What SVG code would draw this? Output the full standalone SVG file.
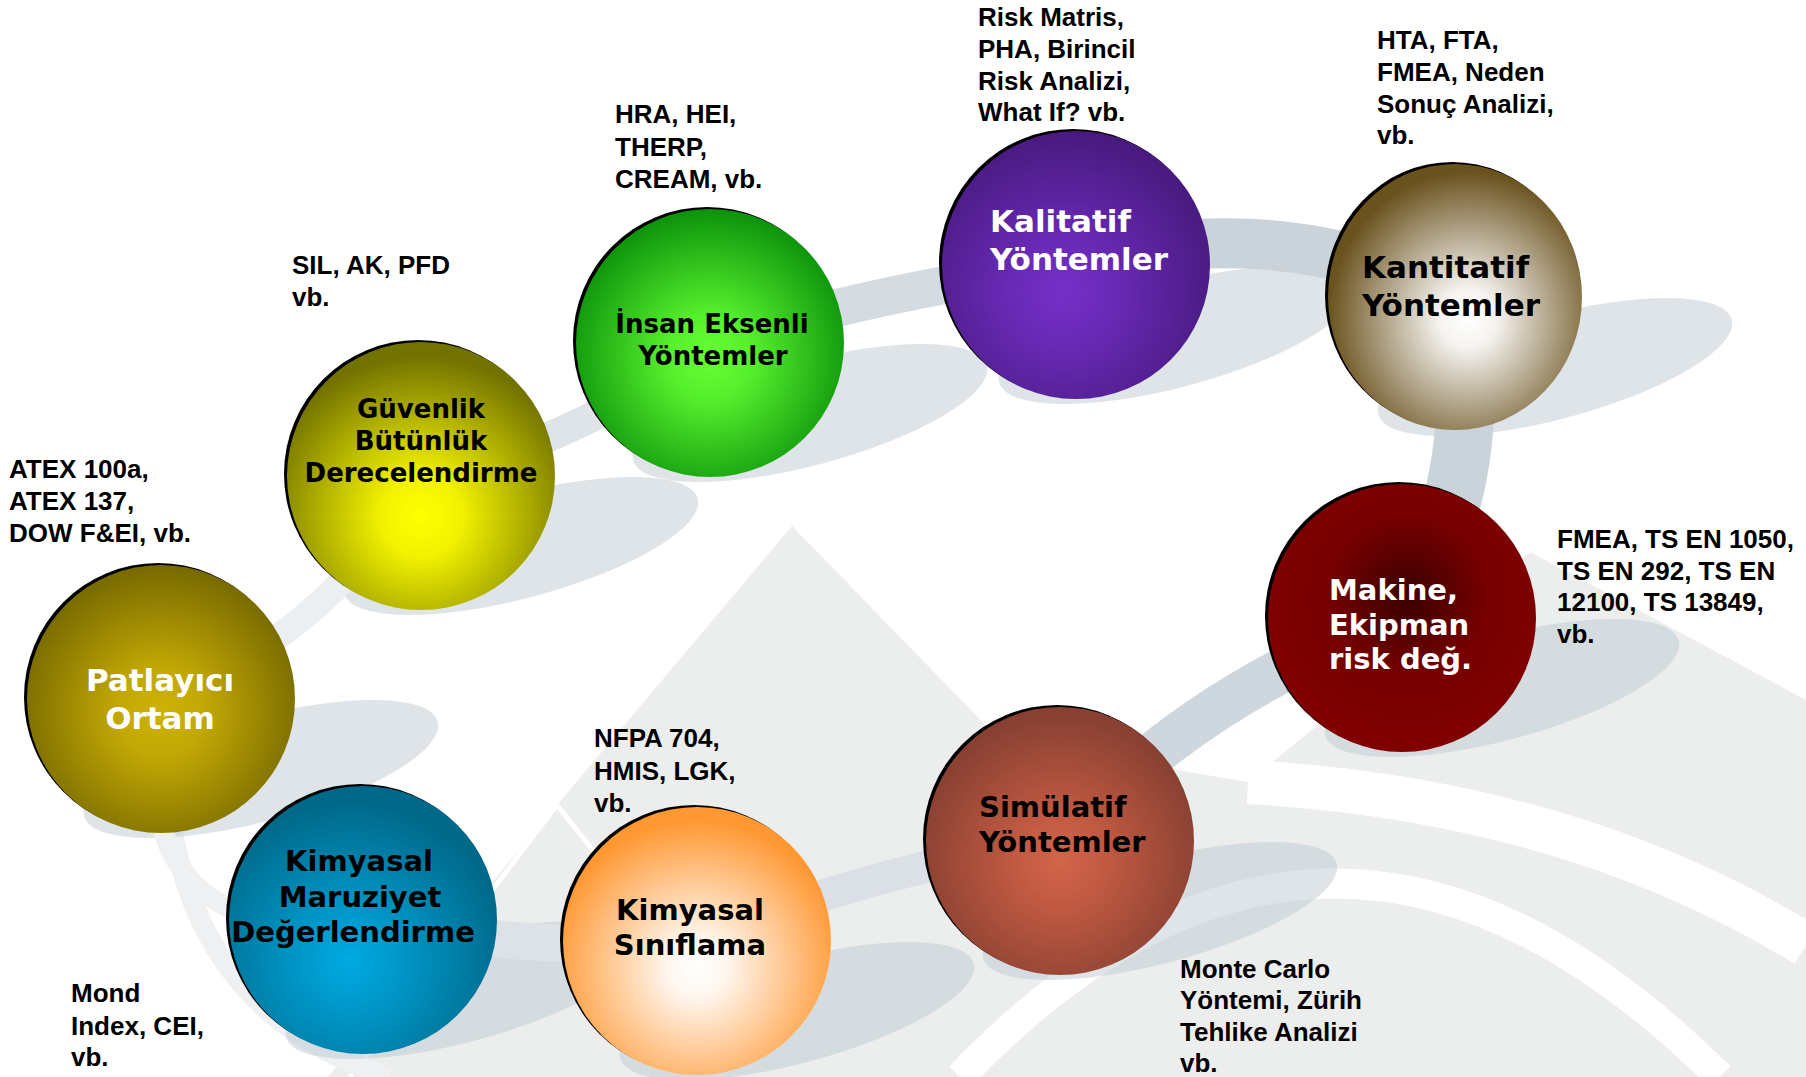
<svg xmlns="http://www.w3.org/2000/svg" width="1806" height="1077" viewBox="0 0 1806 1077">
<style>
.ann{font-family:"Liberation Sans",Arial,sans-serif;font-weight:bold;font-size:26px;fill:#000}
.nl{font-family:"DejaVu Sans",Verdana,sans-serif;font-weight:bold}
.c{text-anchor:middle}
.sh{fill:#C3CDD5;fill-opacity:0.55}
.rim{fill:#000}
.ring{fill:none;stroke-linecap:butt}
</style>
<defs>
<radialGradient id="gP" cx="0.5" cy="0.55" r="0.55"><stop offset="0" stop-color="#CDB204"/><stop offset="0.3" stop-color="#C2A805"/><stop offset="1" stop-color="#776900"/></radialGradient>
<radialGradient id="gG" cx="0.5" cy="0.65" r="0.6"><stop offset="0" stop-color="#FFFF00"/><stop offset="0.25" stop-color="#F2F200"/><stop offset="1" stop-color="#727200"/></radialGradient>
<radialGradient id="gI" cx="0.5" cy="0.55" r="0.55"><stop offset="0" stop-color="#66FF33"/><stop offset="0.3" stop-color="#55EE2C"/><stop offset="1" stop-color="#0C920C"/></radialGradient>
<radialGradient id="gK" cx="0.45" cy="0.6" r="0.6"><stop offset="0" stop-color="#7530C8"/><stop offset="0.3" stop-color="#6A2AB8"/><stop offset="1" stop-color="#481A7E"/></radialGradient>
<radialGradient id="gN" cx="0.55" cy="0.58" r="0.55"><stop offset="0" stop-color="#FFFFFF"/><stop offset="0.2" stop-color="#F6F4F1"/><stop offset="1" stop-color="#6A521E"/></radialGradient>
<radialGradient id="gM" cx="0.52" cy="0.42" r="0.55"><stop offset="0" stop-color="#3A0000"/><stop offset="0.55" stop-color="#780000"/><stop offset="1" stop-color="#800000"/></radialGradient>
<radialGradient id="gS" cx="0.5" cy="0.57" r="0.55"><stop offset="0" stop-color="#D2654B"/><stop offset="0.3" stop-color="#C25A42"/><stop offset="1" stop-color="#874032"/></radialGradient>
<radialGradient id="gC" cx="0.5" cy="0.6" r="0.55"><stop offset="0" stop-color="#FFFFFF"/><stop offset="0.2" stop-color="#FFF6EE"/><stop offset="1" stop-color="#FF9833"/></radialGradient>
<radialGradient id="gD" cx="0.45" cy="0.65" r="0.6"><stop offset="0" stop-color="#00AAE2"/><stop offset="0.3" stop-color="#0098CA"/><stop offset="1" stop-color="#006888"/></radialGradient>
</defs>
<rect width="1806" height="1077" fill="#FFFFFF"/>
<g id="background">
<path d="M328,1077 L792,526 L1000,740 L1248,782 L1530,552 L1806,700 L1806,1077 Z" fill="#ECEDED"/>
<path d="M1248,782 Q1570,800 1806,945" fill="none" stroke="#FFFFFF" stroke-width="44"/>
<path d="M960,1077 Q1330,690 1720,1077" fill="none" stroke="#FFFFFF" stroke-width="30"/>
<path d="M350,1077 L557,805 L700,985" fill="none" stroke="#FFFFFF" stroke-width="5"/>
<path d="M165,760 Q175,1010 390,1077" fill="none" stroke="#EEF0F2" stroke-width="20"/>
</g>
<g id="shadows">
<ellipse class="sh" cx="261" cy="769" rx="183" ry="52" transform="rotate(-15 261 769)"/>
<ellipse class="sh" cx="521" cy="546" rx="183" ry="52" transform="rotate(-15 521 546)"/>
<ellipse class="sh" cx="810" cy="413" rx="183" ry="52" transform="rotate(-15 810 413)"/>
<ellipse class="sh" cx="1176" cy="335" rx="183" ry="52" transform="rotate(-15 1176 335)"/>
<ellipse class="sh" cx="1555" cy="367" rx="183" ry="52" transform="rotate(-15 1555 367)"/>
<ellipse class="sh" cx="1502" cy="688" rx="183" ry="52" transform="rotate(-15 1502 688)"/>
<ellipse class="sh" cx="1160" cy="911" rx="183" ry="52" transform="rotate(-15 1160 911)"/>
<ellipse class="sh" cx="797" cy="1011" rx="183" ry="52" transform="rotate(-15 797 1011)"/>
<ellipse class="sh" cx="463" cy="990" rx="183" ry="52" transform="rotate(-15 463 990)"/>
</g>
<g id="connectors">
<path class="ring" d="M161,699 Q329,636 421,476" stroke="#ECEFF1" stroke-width="26"/>
<path class="ring" d="M421,476 Q574,446 710,343" stroke="#DEE4E8" stroke-width="30"/>
<path class="ring" d="M710,343 Q887,288 1076,265" stroke="#D4DCE1" stroke-width="38"/>
<path class="ring" d="M1076,265 Q1274,209 1455,297" stroke="#C9D3D9" stroke-width="50"/>
<path class="ring" d="M1455,297 Q1491,472 1402,618" stroke="#C8D3DA" stroke-width="58"/>
<path class="ring" d="M1402,618 Q1199,690 1060,841" stroke="#CED7DD" stroke-width="45"/>
<path class="ring" d="M1060,841 Q873,869 697,941" stroke="#DAE0E5" stroke-width="32"/>
<path class="ring" d="M697,941 Q532,953 363,920" stroke="#DCE2E6" stroke-width="37"/>
<path class="ring" d="M363,920 Q118,950 161,699" stroke="#EEF0F2" stroke-width="20"/>
</g>
<g id="node-patlayici">
<circle class="rim" cx="158" cy="697" r="134"/>
<circle cx="161" cy="699" r="134" fill="url(#gP)"/>
<text class="nl c" x="160" y="691" font-size="31" fill="#FFFFFF">Patlayıcı</text>
<text class="nl c" x="160" y="729" font-size="31" fill="#FFFFFF">Ortam</text>
</g>
<g id="node-guvenlik">
<circle class="rim" cx="418" cy="474" r="134"/>
<circle cx="421" cy="476" r="134" fill="url(#gG)"/>
<text class="nl c" x="421" y="418" font-size="26">Güvenlik</text>
<text class="nl c" x="421" y="450" font-size="26">Bütünlük</text>
<text class="nl c" x="421" y="482" font-size="26">Derecelendirme</text>
</g>
<g id="node-insan">
<circle class="rim" cx="707" cy="341" r="134"/>
<circle cx="710" cy="343" r="134" fill="url(#gI)"/>
<text class="nl c" x="712" y="333" font-size="26">İnsan Eksenli</text>
<text class="nl c" x="713" y="365" font-size="26">Yöntemler</text>
</g>
<g id="node-kalitatif">
<circle class="rim" cx="1073" cy="263" r="134"/>
<circle cx="1076" cy="265" r="134" fill="url(#gK)"/>
<text class="nl" x="990" y="232" font-size="31" fill="#FFFFFF">Kalitatif</text>
<text class="nl" x="990" y="270" font-size="31" fill="#FFFFFF">Yöntemler</text>
</g>
<g id="node-kantitatif">
<ellipse class="rim" cx="1452" cy="295" rx="127" ry="133"/>
<ellipse cx="1455" cy="297" rx="127" ry="133" fill="url(#gN)"/>
<text class="nl" x="1362" y="278" font-size="31">Kantitatif</text>
<text class="nl" x="1362" y="316" font-size="31">Yöntemler</text>
</g>
<g id="node-makine">
<circle class="rim" cx="1399" cy="616" r="134"/>
<circle cx="1402" cy="618" r="134" fill="url(#gM)"/>
<text class="nl" x="1329" y="600" font-size="29" fill="#FFFFFF">Makine,</text>
<text class="nl" x="1329" y="635" font-size="29" fill="#FFFFFF">Ekipman</text>
<text class="nl" x="1329" y="669" font-size="29" fill="#FFFFFF">risk değ.</text>
</g>
<g id="node-simulatif">
<circle class="rim" cx="1057" cy="839" r="134"/>
<circle cx="1060" cy="841" r="134" fill="url(#gS)"/>
<text class="nl" x="979" y="817" font-size="29">Simülatif</text>
<text class="nl" x="979" y="852" font-size="29">Yöntemler</text>
</g>
<g id="node-kimyasal-siniflama">
<circle class="rim" cx="694" cy="939" r="134"/>
<circle cx="697" cy="941" r="134" fill="url(#gC)"/>
<text class="nl c" x="690" y="920" font-size="29">Kimyasal</text>
<text class="nl c" x="690" y="955" font-size="29">Sınıflama</text>
</g>
<g id="node-kimyasal-maruziyet">
<circle class="rim" cx="360" cy="918" r="134"/>
<circle cx="363" cy="920" r="134" fill="url(#gD)"/>
<text class="nl c" x="359" y="871" font-size="29">Kimyasal</text>
<text class="nl c" x="360" y="907" font-size="29">Maruziyet</text>
<text class="nl c" x="353" y="942" font-size="29">Değerlendirme</text>
</g>
<g id="annotations">
<text class="ann" x="9" y="478">ATEX 100a,</text>
<text class="ann" x="9" y="510">ATEX 137,</text>
<text class="ann" x="9" y="542">DOW F&amp;EI, vb.</text>
<text class="ann" x="292" y="274">SIL, AK, PFD</text>
<text class="ann" x="292" y="306">vb.</text>
<text class="ann" x="615" y="123">HRA, HEI,</text>
<text class="ann" x="615" y="156">THERP,</text>
<text class="ann" x="615" y="188">CREAM, vb.</text>
<text class="ann" x="978" y="26">Risk Matris,</text>
<text class="ann" x="978" y="58">PHA, Birincil</text>
<text class="ann" x="978" y="90">Risk Analizi,</text>
<text class="ann" x="978" y="121">What If? vb.</text>
<text class="ann" x="1377" y="49">HTA, FTA,</text>
<text class="ann" x="1377" y="81">FMEA, Neden</text>
<text class="ann" x="1377" y="113">Sonuç Analizi,</text>
<text class="ann" x="1377" y="144">vb.</text>
<text class="ann" x="1557" y="548">FMEA, TS EN 1050,</text>
<text class="ann" x="1557" y="580">TS EN 292, TS EN</text>
<text class="ann" x="1557" y="611">12100, TS 13849,</text>
<text class="ann" x="1557" y="643">vb.</text>
<text class="ann" x="594" y="747">NFPA 704,</text>
<text class="ann" x="594" y="780">HMIS, LGK,</text>
<text class="ann" x="594" y="812">vb.</text>
<text class="ann" x="71" y="1002">Mond</text>
<text class="ann" x="71" y="1035">Index, CEI,</text>
<text class="ann" x="71" y="1066">vb.</text>
<text class="ann" x="1180" y="978">Monte Carlo</text>
<text class="ann" x="1180" y="1009">Yöntemi, Zürih</text>
<text class="ann" x="1180" y="1041">Tehlike Analizi</text>
<text class="ann" x="1180" y="1072">vb.</text>
</g>
</svg>
